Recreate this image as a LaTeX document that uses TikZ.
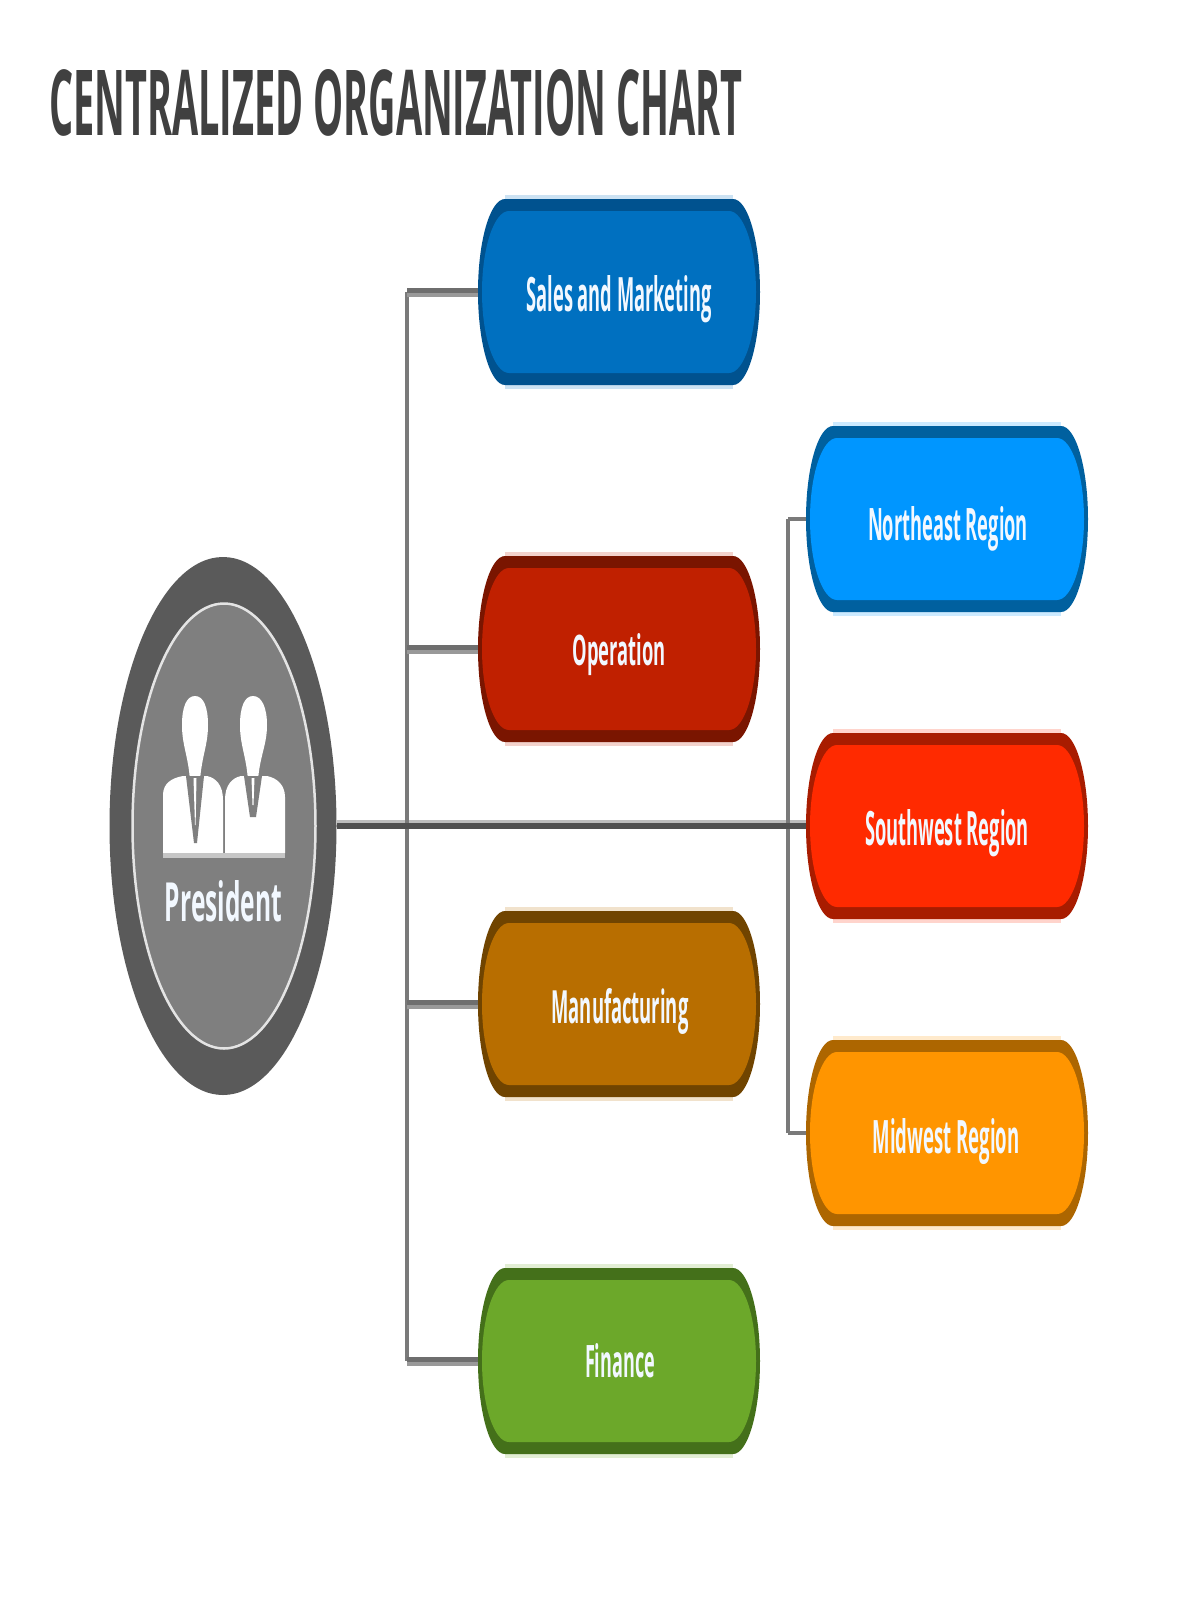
\documentclass[tikz,border=0pt]{standalone}
\usepackage{fontspec}
\usepackage{graphicx}
\setmainfont{Open Sans}
\usetikzlibrary{calc,shapes.geometric}
\newlength\pxu \setlength\pxu{0.02cm}
% fitted text: width, height
\newcommand{\fit}[3]{\resizebox{#1\pxu}{#2\pxu}{\bfseries #3}}
% half-width, half-height, corner run: sides are quarter ellipses
\newcommand{\capsule}[3]{(-#1+#3,-#2) -- (#1-#3,-#2) .. controls (#1-#3*0.45,-#2) and (#1,-#2*0.55) .. (#1,0) .. controls (#1,#2*0.55) and (#1-#3*0.45,#2) .. (#1-#3,#2) -- (-#1+#3,#2) .. controls (-#1+#3*0.45,#2) and (-#1,#2*0.55) .. (-#1,0) .. controls (-#1,-#2*0.55) and (-#1+#3*0.45,-#2) .. (-#1+#3,-#2) -- cycle}
% name, cx, cy, fill, dark
\newcommand{\orgbox}[5]{%
  \begin{scope}[shift={(#2,#3)}]
    \fill[#4!20] (-114,-97) rectangle (114,97);
    \fill[#5] \capsule{141}{93}{27};
    \fill[#4] \capsule{137}{81}{27};
  \end{scope}
  \node[boxnode] (#1) at (#2,#3) {};
}
% branch from a box to a bus: darker upper part, lighter lower part
\newcommand{\branchline}[2]{%
  \draw[branchlo] ($(#1.west)+(0,2.5)$) -- ($(#1.west -| #2)+(0,2.5)$);
  \draw[branchhi] ($(#1.west)+(0,-1.5)$) -- ($(#1.west -| #2)+(0,-1.5)$);
}
\tikzset{
  boxnode/.style={rectangle,inner sep=0pt,minimum width=282\pxu,minimum height=186\pxu},
  lbl/.style={inner sep=0pt,anchor=base,text=labelwhite},
  branchhi/.style={draw=branchdark,line width=5\pxu},
  branchlo/.style={draw=branchlight,line width=4\pxu},
  bus/.style={draw=busgrey,line width=3.5\pxu},
  trunk/.style={draw=trunkgrey,line width=6\pxu},
  trunktop/.style={draw=trunklight,line width=3\pxu},
}
\definecolor{labelwhite}{HTML}{F2F8FF}
\definecolor{branchdark}{HTML}{6E6E6E}
\definecolor{branchlight}{HTML}{999999}
\definecolor{busgrey}{HTML}{7A7A7A}
\definecolor{trunkgrey}{HTML}{505050}
\definecolor{trunklight}{HTML}{BDBDBD}
\definecolor{titlegrey}{HTML}{404040}
\definecolor{ringdark}{HTML}{5A5A5A}
\definecolor{ringin}{HTML}{7F7F7F}
\definecolor{ringline}{HTML}{E4E4E4}
\definecolor{salesF}{HTML}{0070C0}\definecolor{salesD}{HTML}{00528F}
\definecolor{opF}{HTML}{C02000}\definecolor{opD}{HTML}{7A1500}
\definecolor{manF}{HTML}{B86E00}\definecolor{manD}{HTML}{704400}
\definecolor{finF}{HTML}{6CA82A}\definecolor{finD}{HTML}{44701A}
\definecolor{neF}{HTML}{0096FF}\definecolor{neD}{HTML}{00609F}
\definecolor{swF}{HTML}{FF2A00}\definecolor{swD}{HTML}{A81C00}
\definecolor{mwF}{HTML}{FF9500}\definecolor{mwD}{HTML}{AD6600}
\begin{document}
\begin{tikzpicture}[x=0.02cm,y=-0.02cm]
\useasboundingbox (0,0) rectangle (1200,1600);
\fill[white] (0,0) rectangle (1200,1600);

\node[inner sep=0pt,anchor=base west,text=titlegrey] (title) at (49,135) {\fit{693}{66}{CENTRALIZED ORGANIZATION CHART}};

% president
\node[ellipse,minimum width=227\pxu,minimum height=538\pxu,inner sep=0pt,fill=ringdark] (pres) at (223,826) {};
\node[ellipse,minimum width=183\pxu,minimum height=445\pxu,inner sep=0pt,fill=ringin,draw=ringline,line width=2.5\pxu] (presin) at (224,826) {};

% two persons
\fill[white] (163,853) -- (163,795) .. controls (163,783) and (172,778) .. (183,776) -- (207,776) .. controls (216,778) and (223,785) .. (223,800) -- (223,853) -- cycle;
\fill[white] (225,853) -- (225,800) .. controls (225,785) and (232,778) .. (241,776) -- (267,776) .. controls (277,778) and (285,785) .. (285,797) -- (285,853) -- cycle;
\fill[white] (195,696) .. controls (186,696) and (182,708) .. (182,725) .. controls (182,745) and (188,755) .. (190,780) -- (200,780) .. controls (202,755) and (208,745) .. (208,725) .. controls (208,708) and (204,696) .. (195,696) -- cycle;
\fill[white] (253,696) .. controls (244,696) and (240,708) .. (240,725) .. controls (240,745) and (246,755) .. (248,780) -- (258,780) .. controls (260,755) and (267,745) .. (267,725) .. controls (267,708) and (262,696) .. (253,696) -- cycle;
\fill[ringin] (186,776) -- (204,776) -- (197,843) -- (194,843) -- cycle;
\fill[ringin] (244,776) -- (262,776) -- (256,817) -- (250,817) -- cycle;
\fill[white] (193.5,778) -- (196.5,778) -- (195.6,825) -- (195,825) -- cycle;
\fill[white] (251.5,778) -- (254.5,778) -- (253.5,805) -- (252.5,805) -- cycle;
\fill[ringline!70!ringin] (163,853) rectangle (285,858);
\node[lbl] (preslabel) at (223.5,921) {\fit{117}{41}{President}};

% boxes
\orgbox{sales}{619}{292}{salesF}{salesD}
\orgbox{op}{619}{649}{opF}{opD}
\orgbox{man}{619}{1004}{manF}{manD}
\orgbox{fin}{619}{1361}{finF}{finD}
\orgbox{ne}{947}{519}{neF}{neD}
\orgbox{sw}{947}{826}{swF}{swD}
\orgbox{mw}{947}{1133}{mwF}{mwD}

\node[lbl] (saleslabel) at (619,311) {\fit{185}{36}{Sales and Marketing}};
\node[lbl] (oplabel) at (619,665) {\fit{93}{32}{Operation}};
\node[lbl] (manlabel) at (620,1023) {\fit{137}{35}{Manufacturing}};
\node[lbl] (finlabel) at (620,1377) {\fit{70}{34}{Finance}};
\node[lbl] (nelabel) at (948,540) {\fit{160}{34}{Northeast Region}};
\node[lbl] (swlabel) at (947,845) {\fit{164}{36}{Southwest Region}};
\node[lbl] (mwlabel) at (946,1153) {\fit{147}{35}{Midwest Region}};

% connectors
\coordinate (busA) at (407,826);
\coordinate (busB) at (788,826);
\draw[trunktop] ($(pres.east)+(0,-4.5)$) -- ($(sw.west)+(0,-4.5)$);
\draw[bus] (busA |- sales.west) -- (busA |- fin.west);
\draw[bus] (busB |- ne.west) -- (busB |- mw.west);
\branchline{sales}{busA}
\branchline{op}{busA}
\branchline{man}{busA}
\branchline{fin}{busA}
\draw[bus] (ne.west) -- (ne.west -| busB);
\draw[bus] (mw.west) -- (mw.west -| busB);
\draw[trunk] (pres.east) -- (sw.west);
\end{tikzpicture}
\end{document}
